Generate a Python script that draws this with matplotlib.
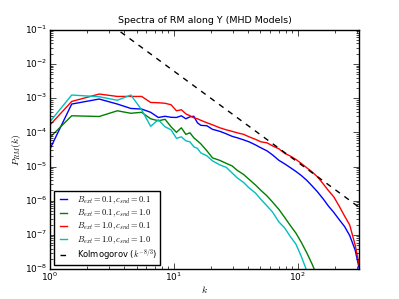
import numpy as np
import matplotlib
matplotlib.use('Agg')
import matplotlib.pyplot as plt
from matplotlib.ticker import NullFormatter

# wavenumbers (bin centres)
k_vals = [1.0, 1.5, 2.5, 3.5, 4.5, 5.5, 6.5, 7.5, 8.5, 9.5, 10.5, 11.5, 12.5, 13.5, 14.5,
          15.5, 16.5, 18.5, 20.5, 23.5, 26.5, 29.5, 32.5, 36.5, 40.5, 45.5, 50.5, 56.5,
          62.5, 70.5, 78.5, 86.5, 96.5, 106.5, 118.5, 130.5, 144.5, 160.5, 176.5, 195.5,
          215.5, 238.5, 262.5, 290.5, 312.5]

# log10 of P_RM(k) for each model
logp_b01_c01 = [-4.490, -3.170, -3.023, -3.170, -3.299, -3.317, -3.411, -3.563, -3.528,
                -3.557, -3.563, -3.513, -3.601, -3.543, -3.528, -3.718, -3.792,
                -3.806, -3.909, -3.968, -4.041, -4.114, -4.158, -4.217, -4.276, -4.364,
                -4.452, -4.540, -4.657, -4.818, -4.921, -5.023, -5.141, -5.258, -5.405,
                -5.566, -5.742, -5.947, -6.152, -6.343, -6.548, -6.754, -7.018, -7.443,
                -7.971]
logp_b01_c10 = [-4.150, -3.513, -3.534, -3.367, -3.440, -3.411, -3.601, -3.660, -3.616,
                -3.836, -3.997, -3.865, -4.056, -4.012, -4.158, -4.246, -4.334,
                -4.540, -4.745, -4.818, -4.906, -4.979, -5.111, -5.229, -5.375, -5.537,
                -5.698, -5.859, -6.035, -6.255, -6.490, -6.710, -6.944, -7.208, -7.531,
                -7.853, -8.235]
logp_b10_c01 = [-3.786, -3.094, -2.877, -2.947, -2.947, -2.947, -3.123, -3.132, -3.147,
                -3.191, -3.367, -3.337, -3.455, -3.513, -3.572, -3.601, -3.645,
                -3.718, -3.777, -3.865, -3.924, -3.968, -4.012, -4.056, -4.129, -4.202,
                -4.276, -4.305, -4.393, -4.481, -4.613, -4.686, -4.789, -4.906, -5.038,
                -5.155, -5.302, -5.507, -5.698, -5.889, -6.152, -6.446, -6.710, -7.297,
                -7.883]
logp_b10_c10 = [-3.689, -2.906, -2.956, -3.059, -2.906, -3.337, -3.821, -3.630, -3.836,
                -3.924, -4.173, -4.129, -4.246, -4.276, -4.422, -4.466, -4.598,
                -4.686, -4.833, -4.950, -5.023, -5.185, -5.331, -5.463, -5.625, -5.771,
                -5.962, -6.152, -6.328, -6.622, -6.798, -7.032, -7.267, -7.619, -8.059]

labels = [r'$B_{ext}=0.1,c_{snd}=0.1$', r'$B_{ext}=0.1,c_{snd}=1.0$',
          r'$B_{ext}=1.0,c_{snd}=0.1$', r'$B_{ext}=1.0,c_{snd}=1.0$']
colors = ['b', 'g', 'r', 'c']

kolmo_amp = 2.9  # amplitude of the k^(-8/3) guide line

plt.style.use('classic')
plt.rcParams['mathtext.fontset'] = 'cm'
plt.rcParams['font.size'] = 7

fig = plt.figure(figsize=(3.99, 2.99), dpi=100, facecolor='white')
ax = fig.add_subplot(111)
fig.subplots_adjust(left=0.125, right=0.9, bottom=0.1, top=0.9)

k = np.array(k_vals)
for logp, c, lab in zip([logp_b01_c01, logp_b01_c10, logp_b10_c01, logp_b10_c10], colors, labels):
    ax.plot(k[:len(logp)], 10 ** np.array(logp), color=c, lw=1.0, label=lab)

ax.plot(k, kolmo_amp * k ** (-8.0 / 3.0), 'k--', lw=1.0, dashes=(4, 4),
        label=r'Kolmogorov ($k^{-8/3}$)')

ax.set_xscale('log')
ax.set_yscale('log')
ax.set_xlim(1, 312.5)
ax.set_ylim(1e-8, 1e-1)
ax.xaxis.set_minor_formatter(NullFormatter())
ax.yaxis.set_minor_formatter(NullFormatter())
ax.set_title('Spectra of RM along Y (MHD Models)', fontsize=6.8)
ax.set_xlabel('$k$', fontsize=7)
ax.set_ylabel('$P_{RM}(k)$', fontsize=7)
ax.xaxis.set_label_coords(0.5, -0.064)
ax.yaxis.set_label_coords(-0.087, 0.5)
ax.tick_params(labelsize=6.5)
ax.tick_params(axis='x', which='major', pad=1)
ax.tick_params(axis='y', which='major', pad=2)
ax.legend(loc='lower left', fontsize=6, handlelength=1.5, labelspacing=0.2)

fig.savefig('out.png', dpi=100, facecolor='white')
